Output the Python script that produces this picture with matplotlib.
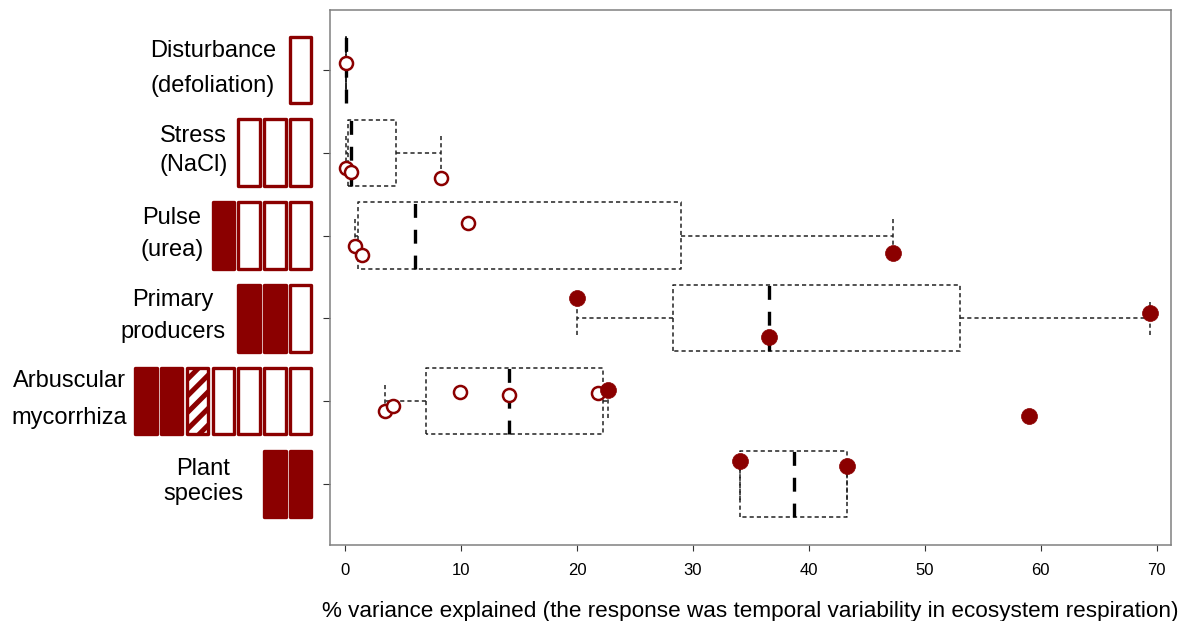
import matplotlib
matplotlib.use("Agg")
import numpy as np
import matplotlib.pyplot as plt
from matplotlib.patches import Rectangle
from matplotlib import transforms

plt.rcParams['font.family'] = ['Liberation Sans', 'DejaVu Sans']
plt.rcParams['lines.scale_dashes'] = False
plt.rcParams['hatch.linewidth'] = 3.6

RED = '#8B0000'

# rows from top to bottom
labels = [("Disturbance", "(defoliation)"),
          ("Stress", "(NaCl)"),
          ("Pulse", "(urea)"),
          ("Primary", "producers"),
          ("Arbuscular", "mycorrhiza"),
          ("Plant", "species")]

# little boxes left of the plot: f = filled, h = hatched, o = open
icons = ["o", "ooo", "fooo", "ffo", "ffhoooo", "ff"]

# % variance explained
disturbance = [0.1]
stress = [0.05, 0.45, 8.3]
pulse = [0.8, 1.4, 10.6, 47.3]
primary = [20.0, 36.6, 69.4]
arbuscular = [3.4, 4.1, 9.9, 14.1, 21.8, 22.7, 59.0]
plant = [34.1, 43.3]

# 1 = filled point, 0 = open point
disturbance_f = [0]
stress_f = [0, 0, 0]
pulse_f = [0, 0, 0, 1]
primary_f = [1, 1, 1]
arbuscular_f = [0, 0, 0, 0, 0, 1, 1]
plant_f = [1, 1]

# vertical jitter of the points (as in the original)
disturbance_j = [0.08]
stress_j = [-0.18, -0.23, -0.30]
pulse_j = [-0.12, -0.24, 0.15, -0.21]
primary_j = [0.25, -0.23, 0.06]
arbuscular_j = [-0.12, -0.06, 0.11, 0.08, 0.10, 0.14, -0.18]
plant_j = [0.28, 0.22]

values = [disturbance, stress, pulse, primary, arbuscular, plant]
filled = [disturbance_f, stress_f, pulse_f, primary_f, arbuscular_f, plant_f]
jitter = [disturbance_j, stress_j, pulse_j, primary_j, arbuscular_j, plant_j]

xticks = [0, 10, 20, 30, 40, 50, 60, 70]
xlabel = "% variance explained (the response was temporal variability in ecosystem respiration)"


def fivenum(v):
    # Tukey hinges, like R's boxplot
    x = np.sort(np.asarray(v, float))
    n = len(x)
    n4 = np.floor((n + 3) / 2) / 2
    d = np.array([1, n4, (n + 1) / 2, n + 1 - n4, n]) - 1
    return 0.5 * (x[np.floor(d).astype(int)] + x[np.ceil(d).astype(int)])


def box_stats(v):
    x = np.asarray(v, float)
    mn, q1, med, q3, mx = fivenum(x)
    iqr = q3 - q1
    lo = x[x >= q1 - 1.5 * iqr].min()
    hi = x[x <= q3 + 1.5 * iqr].max()
    return dict(med=med, q1=q1, q3=q3, whislo=lo, whishi=hi, fliers=[])


W, H = 1193, 621
fig = plt.figure(figsize=(W / 100, H / 100), dpi=100)
ax = fig.add_axes([330 / W, 1 - 545 / H, 840.7 / W, 535 / H])

n = len(labels)
ypos = np.arange(n, 0, -1)

stats = [box_stats(v) for v in values]
dash_thin = dict(color='#222222', lw=1.1, ls=(0, (3, 2.2)))
kw = dict(positions=ypos, widths=0.8, capwidths=0.4, showfliers=False,
          boxprops=dash_thin, whiskerprops=dash_thin, capprops=dash_thin,
          medianprops=dict(color='black', lw=2.4, ls=(0, (10, 8.6))))
try:
    ax.bxp(stats, orientation='horizontal', **kw)
except TypeError:
    ax.bxp(stats, vert=False, **kw)

for y, v, f, j in zip(ypos, values, filled, jitter):
    for xv, fv, jv in zip(v, f, j):
        if fv:
            ax.plot(xv, y + jv, 'o', ms=11.5, color=RED, mec=RED, mew=0.5, zorder=5)
        else:
            ax.plot(xv, y + jv, 'o', ms=9.4, mfc='white', mec=RED, mew=1.8, zorder=5)

ax.set_xlim(-1.32, 71.22)
ax.set_ylim(0.262, 6.725)
ax.set_xticks(xticks)
ax.set_xticklabels([str(t) for t in xticks], fontsize=12)
ax.set_yticks(ypos)
ax.set_yticklabels([])
ax.tick_params(axis='x', length=4.3, width=0.8, color='#333333', pad=9)
ax.tick_params(axis='y', length=5, width=0.8, color='#333333')
for s in ax.spines.values():
    s.set_color('#808080')
    s.set_linewidth(1.1)
ax.set_xlabel(xlabel, fontsize=16.2, labelpad=16)

# icons and row labels, x in pixels, y in data units
blend = transforms.blended_transform_factory(fig.transFigure, ax.transData)
pitch = 25.8
iw = 21.4
ih = 0.806
right_edge = 311.3
for y, code in zip(ypos, icons):
    for i, c in enumerate(code[::-1]):
        x0 = right_edge - iw - i * pitch
        if c == 'f':
            p = Rectangle((x0 / W, y - ih / 2), iw / W, ih, transform=blend,
                          fc=RED, ec=RED, lw=2.4, joinstyle='round', clip_on=False)
        elif c == 'h':
            p = Rectangle((x0 / W, y - ih / 2), iw / W, ih, transform=blend,
                          fc='white', ec=RED, lw=2.4, hatch='//', joinstyle='round',
                          clip_on=False)
        else:
            p = Rectangle((x0 / W, y - ih / 2), iw / W, ih, transform=blend,
                          fc='white', ec=RED, lw=2.4, joinstyle='round', clip_on=False)
        fig.add_artist(p)

line_gap = [35, 29, 32, 32, 37, 25]
label_pad = [11, 8, 6, 10, 5, 18]
fig.canvas.draw()
renderer = fig.canvas.get_renderer()
for y, (l1, l2), code, g, pad in zip(ypos, labels, icons, line_gap, label_pad):
    t1 = fig.text(0, y, l1, fontsize=17, ha='center', va='center',
                  transform=transforms.offset_copy(blend, fig=fig, y=g / 2 + 2, units='dots'))
    t2 = fig.text(0, y, l2, fontsize=17, ha='center', va='center',
                  transform=transforms.offset_copy(blend, fig=fig, y=-g / 2 + 2, units='dots'))
    wmax = max(t1.get_window_extent(renderer).width, t2.get_window_extent(renderer).width)
    left = right_edge + 1.5 - len(code) * pitch
    xc = left - pad - wmax / 2
    t1.set_x(xc / W)
    t2.set_x(xc / W)

fig.savefig("out.png", dpi=100)
